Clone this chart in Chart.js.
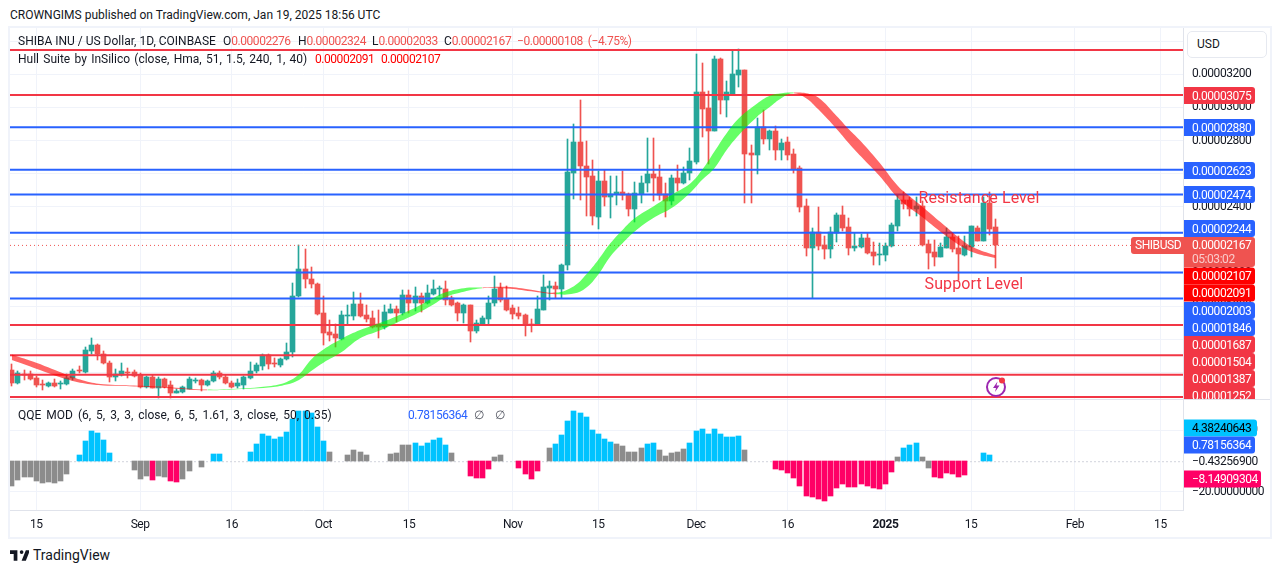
<!DOCTYPE html>
<html>
<head>
<meta charset="utf-8">
<title>SHIBUSD</title>
<script src="https://cdn.jsdelivr.net/npm/chart.js@4"></script>
<style>
  html, body { margin: 0; padding: 0; background: #fff; }
  body { width: 1281px; height: 573px; position: relative; overflow: hidden; font-family: Roboto, sans-serif; font-size: 12px; color: #131722; }
  .t { position: absolute; white-space: pre; line-height: 16px; }
  .n { letter-spacing: -0.45px; }
  #frame { position: absolute; left: 8px; top: 26px; width: 1260px; height: 509px; border: 2px solid #f0f3fa; }
  #c { position: absolute; left: 10px; top: 28px; }
  #sep { position: absolute; left: 10px; top: 399px; width: 1260px; height: 1px; background: #e0e3eb; }
  #usd { position: absolute; left: 1187px; top: 31px; width: 78px; height: 25px; border: 1px solid #e6e9f0; border-radius: 5px; background: #fff; line-height: 25px; padding-left: 0; text-indent: 9px; }
  .r { color: #ef5350; } .hr { color: #ff0000; } .b { color: #2962ff; }
</style>
</head>
<body>
<div id="frame"></div>
<canvas id="c" width="1260" height="508"></canvas>
<div id="sep"></div>
<div id="usd">USD</div>
<div class="t" style="left:10px;top:7px">CROWNGIMS published on TradingView.com, Jan 19, 2025 18:56 UTC</div>
<div class="t" style="left:18px;top:33px">SHIBA INU / US Dollar, 1D, COINBASE</div>
<div class="t" style="left:223px;top:33px">O<span class="r n">0.00002276</span></div>
<div class="t" style="left:298px;top:33px">H<span class="r n">0.00002324</span></div>
<div class="t" style="left:372px;top:33px">L<span class="r n">0.00002033</span></div>
<div class="t" style="left:444px;top:33px">C<span class="r n">0.00002167</span></div>
<div class="t r n" style="left:517px;top:33px">−0.00000108  (−4.75%)</div>
<div class="t" style="left:18px;top:51px;word-spacing:1.3px">Hull Suite by InSilico (close, Hma, 51, 1.5, 240, 1, 40)</div>
<div class="t hr n" style="left:315px;top:51px">0.00002091</div>
<div class="t hr n" style="left:381px;top:51px">0.00002107</div>
<div class="t" style="left:18px;top:407px;word-spacing:2px">QQE MOD (6, 5, 3, 3, close, 6, 5, 1.61, 3, close, 50, 0.35)</div>
<div class="t b n" style="left:408px;top:407px">0.78156364</div>
<div class="t" style="left:474px;top:407px;color:#50535e">∅</div>
<div class="t" style="left:495px;top:407px;color:#50535e">∅</div>
<svg style="position:absolute;left:10px;top:549px" width="19" height="13" viewBox="0 0 36 24"><path fill="#131722" d="M14 2H0v7h7v13h7V2Zm16 20h-8l8-20h8l-8 20ZM22 9a3.5 3.5 0 1 0 0-7 3.5 3.5 0 0 0 0 7Z"/></svg>
<div class="t" style="left:33px;top:547px;font-size:14px">TradingView</div>
<svg style="position:absolute;left:985px;top:375px" width="23" height="23" viewBox="0 0 23 23">
  <circle cx="11" cy="12" r="9" fill="#fff" stroke="#9c27b0" stroke-width="2"/>
  <path d="M12.5 6.5 8 13h3l-1 4 4.5-6.5h-3z" fill="#9c27b0"/>
  <circle cx="17" cy="5.5" r="3" fill="#f23645"/>
</svg>
<script>
// prices are in units of 0.00000001 USD, candle index 0 = 11 Aug 2024
const opens = [1415,1335,1389,1393,1365,1331,1319,1339,1329,1329,1365,1415,1403,1529,1563,1509,1459,1371,1387,1403,
  1403,1383,1315,1371,1307,1359,1323,1279,1283,1303,1353,1353,1323,1349,1395,1375,1339,1319,1327,1365,
  1407,1439,1503,1459,1443,1479,1521,1860,2027,1967,1937,1756,1642,1630,1602,1740,1740,1816,1744,1726,
  1694,1674,1762,1786,1760,1870,1822,1860,1818,1874,1906,1906,1850,1818,1756,1808,1648,1692,1720,1818,
  1910,1842,1792,1756,1744,1694,1686,1780,1911,1919,1901,2051,2605,2792,2647,2587,2336,2557,2462,2480,
  2490,2480,2388,2480,2541,2599,2581,2480,2432,2575,2545,2601,2671,3093,2996,2860,3291,3044,3075,3195,
  3225,2723,2713,2882,2810,2858,2743,2792,2719,2635,2406,2153,2250,2171,2147,2244,2352,2280,2153,2159,
  2214,2129,2113,2111,2161,2286,2442,2438,2386,2406,2177,2129,2099,2153,2219,2153,2111,2159,2274,2196,
  2424,2276];
const highs = [1449,1409,1415,1409,1379,1355,1345,1359,1349,1389,1423,1439,1553,1609,1569,1529,1469,1423,1455,1429,
  1415,1395,1379,1383,1371,1367,1349,1303,1319,1375,1369,1363,1355,1411,1407,1387,1349,1359,1379,1463,
  1455,1509,1509,1489,1489,1575,1941,2169,2147,2037,1941,1864,1714,1690,1774,1810,1888,1880,1810,1770,
  1780,1810,1814,1800,1900,1900,1918,1880,1930,1961,1920,1951,1864,1824,1816,1810,1716,1740,1860,1985,
  1941,1920,1810,1796,1750,1724,1860,1991,1953,1949,2055,2810,2900,3044,2798,2683,2613,2623,2583,2587,
  2619,2483,2551,2587,2818,2818,2653,2543,2593,2653,2641,2755,3321,3269,3099,3309,3297,3159,3346,3350,
  3225,2774,2936,2984,2864,2888,2810,2822,2749,2647,2448,2273,2400,2225,2280,2364,2406,2334,2242,2238,
  2244,2189,2182,2182,2302,2473,2487,2462,2462,2432,2201,2201,2182,2272,2242,2222,2222,2286,2286,2462,
  2492,2324];
const lows = [1319,1329,1355,1355,1315,1295,1315,1315,1299,1327,1355,1395,1399,1509,1475,1449,1343,1349,1379,1369,
  1375,1309,1309,1305,1249,1309,1249,1275,1279,1299,1335,1289,1319,1345,1363,1329,1307,1309,1299,1359,
  1399,1415,1419,1431,1435,1475,1495,1856,1909,1909,1744,1565,1589,1555,1598,1690,1716,1736,1704,1670,
  1609,1664,1760,1704,1744,1760,1770,1764,1814,1870,1860,1810,1804,1710,1700,1583,1640,1686,1690,1800,
  1824,1770,1724,1720,1620,1644,1686,1780,1840,1850,1850,2017,2446,2438,2342,2290,2266,2402,2330,2408,
  2438,2342,2306,2422,2490,2432,2442,2336,2408,2493,2535,2559,2661,2824,2659,2858,2960,2940,3075,3123,
  2424,2424,2599,2780,2743,2683,2683,2683,2605,2370,2105,1850,2141,2087,2093,2189,2256,2111,2135,2153,
  2117,2051,2051,2071,2157,2252,2386,2346,2342,2166,2027,2045,2097,2151,2125,1961,2105,2095,2192,2192,
  2232,2033];
const closes = [1335,1395,1385,1359,1323,1327,1339,1319,1335,1365,1411,1411,1533,1563,1509,1455,1371,1389,1407,1399,
  1379,1315,1371,1309,1363,1315,1275,1291,1311,1359,1357,1323,1351,1399,1371,1335,1311,1335,1371,1411,
  1443,1503,1449,1455,1483,1525,1864,2027,1965,1933,1750,1638,1626,1606,1744,1744,1816,1740,1720,1676,
  1674,1768,1786,1762,1870,1822,1860,1818,1882,1906,1910,1836,1810,1756,1806,1648,1700,1728,1822,1906,
  1836,1780,1750,1738,1690,1690,1786,1913,1919,1903,2051,2611,2792,2649,2581,2342,2557,2462,2480,2490,
  2474,2384,2483,2545,2599,2575,2473,2432,2575,2545,2605,2677,3093,2990,2858,3291,3044,3093,3201,3225,
  2719,2713,2882,2810,2858,2743,2786,2713,2629,2400,2153,2250,2165,2147,2250,2352,2274,2153,2165,2214,
  2123,2105,2117,2165,2292,2442,2418,2388,2406,2171,2123,2099,2159,2219,2147,2117,2165,2286,2196,2424,
  2268,2167];

// Hull Suite band, read at these candle indexes
const hullDays  = [0,4,9,12,15,20,25,32,36,42,45,47,49,51,54,57,60,63,66,69,71,74,77,81,85,89,92,94,96,98,100,102,105,108,111,113,115,117,119,122,124,126,128,130,132,135,137,139,142,145,147,149,152,156,158,161];
const hullUpper = [1509,1459,1387,1349,1329,1321,1313,1297,1301,1317,1343,1389,1479,1539,1604,1656,1696,1740,1790,1850,1884,1909,1913,1917,1900,1882,1921,1991,2081,2181,2262,2332,2402,2473,2539,2623,2733,2844,2934,3024,3069,3085,3089,3085,3059,2948,2868,2794,2667,2527,2462,2402,2308,2186,2145,2107];
const hullLower = [1475,1423,1359,1333,1321,1315,1307,1293,1297,1309,1327,1355,1409,1459,1523,1606,1650,1700,1750,1810,1856,1888,1909,1907,1890,1872,1876,1911,1991,2101,2181,2252,2332,2392,2483,2563,2633,2743,2834,2944,3000,3057,3085,3055,2988,2870,2784,2703,2587,2454,2392,2338,2250,2148,2117,2091];
const hullTrend = ['down','down','down','down','down','down','down','up','up','up','up','up','up','up','up','up','up','up','up','up','up','up','down','down','down','up','up','up','up','up','up','up','up','up','up','up','up','up','up','up','up','up','down','down','down','down','down','down','down','down','down','down','down','down','down','down'];

// QQE MOD histogram, one value per candle
const qqeValues = [-16.1,-12.2,-10.2,-10.2,-12.8,-14.1,-13.5,-14.1,-12.8,-8.3,null,4.1,13.3,19.8,18.5,13.9,5.4,null,null,null,
  -5.7,-11.5,-9.6,-12.2,-9.6,-10.2,-12.8,-13.5,-11.5,-6.3,null,-3.7,null,4.8,4.8,null,null,null,null,6.1,
  11.3,17.8,16.5,14.6,15.9,19.1,27,32.8,32.8,31.5,22.4,13.3,6.1,null,null,4.1,7.4,6.1,4.1,null,
  null,null,4.8,5.4,10.7,10.7,12,10,12,13.9,15.2,10.7,5.4,null,null,-9.6,-10.9,-10.9,-5,2.8,
  4.1,null,null,-4.3,-8.3,-11.5,-6.3,null,8.7,11.3,17.2,25.7,32.2,30.9,28.3,20.4,17.8,14.6,12.6,11.3,
  10,6.1,6.1,8.7,11.3,12,7.4,3.5,5.4,6.1,8,12,19.8,21.1,17.8,21.1,17.8,15.9,15.9,16.5,
  7.4,null,null,null,null,-5,-5.7,-7.6,-10.9,-16.1,-22.6,-23.3,-24.6,-25.9,-22.6,-17.4,-14.8,-16.7,-16.7,-14.8,
  -16.1,-17.4,-18,-14.8,-7,2.8,8.7,10.7,12,2.8,-4.3,-10.2,-10.9,-7.6,-8.3,-10.2,-8.9,null,null,5.4,
  4.1,null];
// g = neutral, b = strong up, p = strong down
const qqeState = 'gggggggggg.bbbbbb...gggpggppgg.g.bb....bbbbbbbbbbbbbg..gggg...ggggbbbbbbg..ppppgg..pppp.gbbbbbbbbbbgggggbbgggggbbbbbbbbbg....ppppppppppppppppppppgbbbggpppppp..bb.';

const levelsRed  = [3346,3075,1687,1504,1387,1252];
const levelsBlue = [2880,2623,2474,2244,2003,1846];
const lastPrice = 2167;
const qqeRefLine = -0.432569;

const priceTicks = [3400,3200,3000,2800,2600,2400,2200,2000,1800,1600,1400];
const qqeTicks = [20,-20];
const timeTickDays = [4,21,36,51,65,82,96,112,127,143,157,174,188];
const timeTickLabels = ['15','Sep','16','Oct','15','Nov','15','Dec','16','2025','15','Feb','15'];

const GREEN = '#26a69a', RED = '#ef5350';
const XMIN = -0.3, XMAX = 191.7;
const FONT = 'Roboto, sans-serif';
const qqeColors = { g: '#8c8c8c', b: '#00c3ff', p: '#ff0066' };
const hullColors = { up: 'rgba(0,255,0,0.6)', down: 'rgba(255,0,0,0.6)' };

const fmtPrice = v => (v / 1e8).toFixed(8);
const fmtQqe = v => v.toFixed(8).replace('-', '−');

const candleColor = i => closes[i] >= opens[i] ? GREEN : RED;

function levelDataset(v, color) {
  return { type: 'line', yAxisID: 'y', order: 3, borderColor: color, borderWidth: 2, pointRadius: 0,
    data: [{ x: XMIN, y: v }, { x: XMAX, y: v }] };
}
function hullSegmentColor(ctx) {
  return hullColors[hullTrend[ctx.p0DataIndex]];
}
// no half label padding, the chart area has to sit on exact pixels
function noPadding(s) {
  s.paddingTop = s.paddingBottom = s.paddingLeft = s.paddingRight = 0;
}

const qqePoints = [];
qqeValues.forEach((v, i) => { if (v !== null) qqePoints.push({ x: i, y: v, s: qqeState[i] }); });

const datasets = [
  // hull band
  { type: 'line', yAxisID: 'y', order: 1, borderWidth: 0, pointRadius: 0, tension: 0.4, fill: '+1',
    backgroundColor: hullColors.down, segment: { backgroundColor: hullSegmentColor },
    data: hullDays.map((d, i) => ({ x: d, y: hullUpper[i] })) },
  { type: 'line', yAxisID: 'y', order: 1, borderWidth: 0, pointRadius: 0, tension: 0.4, fill: false,
    data: hullDays.map((d, i) => ({ x: d, y: hullLower[i] })) },
  ...levelsRed.map(v => levelDataset(v, '#f23645')),
  ...levelsBlue.map(v => levelDataset(v, '#2962ff')),
  // last price dotted
  { type: 'line', yAxisID: 'y', order: 4, borderColor: RED, borderWidth: 1, borderDash: [1, 3], pointRadius: 0,
    data: [{ x: XMIN, y: lastPrice }, { x: XMAX, y: lastPrice }] },
  // wicks and bodies
  { type: 'bar', yAxisID: 'y', order: 6, grouped: false, barThickness: 1,
    backgroundColor: ctx => candleColor(ctx.dataIndex),
    data: opens.map((o, i) => ({ x: i, y: [lows[i], highs[i]] })) },
  { type: 'bar', yAxisID: 'y', order: 5, grouped: false, barThickness: 5,
    backgroundColor: ctx => candleColor(ctx.dataIndex),
    data: opens.map((o, i) => ({ x: i, y: [o, closes[i]] })) },
  // qqe
  { type: 'line', yAxisID: 'q', order: 8, borderColor: '#d1d4dc', borderWidth: 1, borderDash: [2, 2], pointRadius: 0,
    data: [{ x: XMIN, y: qqeRefLine }, { x: XMAX, y: qqeRefLine }] },
  { type: 'bar', yAxisID: 'q', order: 7, grouped: false, barThickness: 5,
    backgroundColor: ctx => qqeColors[qqePoints[ctx.dataIndex].s],
    data: qqePoints }
];

// keep bars on whole pixels like the original
const snapBars = {
  id: 'snapBars',
  beforeDraw(chart) {
    chart.ctx.letterSpacing = '-0.45px';
  },
  beforeDatasetsDraw(chart) {
    chart.getSortedVisibleDatasetMetas().forEach(meta => {
      if (meta.type !== 'bar') return;
      meta.data.forEach(el => {
        el.x = Math.round(el.x - 0.5) + 0.5;
        el.y = Math.round(el.y);
        el.base = Math.round(el.base);
        if (el.y === el.base) el.base += 1;
      });
    });
  }
};

// price tags on the right plus the two drawn labels
const priceTags = [
  { text: '0.00003075', y: 95.5, bg: '#f23645' },
  { text: '0.00002880', y: 127.5, bg: '#2962ff' },
  { text: '0.00002623', y: 170.5, bg: '#2962ff' },
  { text: '0.00002474', y: 194.5, bg: '#2962ff' },
  { text: '0.00002244', y: 228.5, bg: '#2962ff' },
  { text: '0.00002107', y: 276, bg: '#ff0000' },
  { text: '0.00002091', y: 293, bg: '#ff0000' },
  { text: '0.00002003', y: 310.5, bg: '#2962ff' },
  { text: '0.00001846', y: 327.5, bg: '#2962ff' },
  { text: '0.00001687', y: 344.5, bg: '#f23645' },
  { text: '0.00001504', y: 361.5, bg: '#f23645' },
  { text: '0.00001387', y: 378.5, bg: '#f23645' },
  { text: '0.00001252', y: 395.5, bg: '#f23645' },
  { text: '4.38240643', y: 428, bg: '#00c3ff', fg: '#000', w: 73 },
  { text: '0.78156364', y: 445, bg: '#2962ff' },
  { text: '−8.14909304', y: 479, bg: '#ff0066', w: 77 }
];
const drawnLabels = [
  { text: 'Resistance Level', day: 148.4, price: 2450 },
  { text: 'Support Level', day: 149.4, price: 1925 }
];

const overlay = {
  id: 'overlay',
  afterDraw(chart) {
    const ctx = chart.ctx, sx = chart.scales.x, sy = chart.scales.y;
    const L = 1174, T = 28;
    ctx.save();
    ctx.beginPath();
    ctx.rect(0, 0, 1260, 371);
    ctx.clip();
    ctx.textBaseline = 'middle';
    ctx.textAlign = 'left';
    ctx.letterSpacing = '0.1px';
    drawnLabels.forEach(l => {
      ctx.font = '16px ' + FONT;
      ctx.fillStyle = '#f23645';
      ctx.fillText(l.text, sx.getPixelForValue(l.day), sy.getPixelForValue(l.price));
    });
    ctx.letterSpacing = '-0.45px';
    // last price block with countdown
    ctx.fillStyle = RED;
    ctx.beginPath();
    ctx.roundRect(L - 53, 237 - T, 53, 17, [3, 0, 0, 3]);
    ctx.roundRect(L, 237 - T, 71, 30, [0, 3, 3, 0]);
    ctx.fill();
    ctx.restore();
    ctx.save();
    ctx.textBaseline = 'middle';
    priceTags.forEach(t => {
      ctx.save();
      ctx.beginPath();
      ctx.rect(L, t.y < 400 ? 0 : 372, 90, t.y < 400 ? 371 : 110);
      ctx.clip();
      ctx.fillStyle = t.bg;
      ctx.beginPath();
      ctx.roundRect(L, t.y - 8.5 - T, t.w || 71, 17, [0, 3, 3, 0]);
      ctx.fill();
      ctx.font = '12px ' + FONT;
      ctx.fillStyle = t.fg || '#fff';
      ctx.fillText(t.text, L + 8, t.y - T + 1);
      ctx.restore();
    });
    ctx.font = '12px ' + FONT;
    ctx.fillStyle = '#fff';
    ctx.fillText('SHIBUSD', L - 49, 246 - T);
    ctx.fillText('0.00002167', L + 8, 246 - T);
    ctx.fillStyle = 'rgba(255,255,255,0.7)';
    ctx.fillText('05:03:02', L + 8, 260 - T);
    ctx.restore();
  }
};

new Chart(document.getElementById('c'), {
  data: { datasets },
  plugins: [snapBars, overlay],
  options: {
    responsive: false,
    animation: false,
    devicePixelRatio: 1,
    events: [],
    layout: { padding: 0 },
    plugins: { legend: { display: false }, tooltip: { enabled: false } },
    elements: { bar: { borderWidth: 0 } },
    scales: {
      x: {
        type: 'linear', min: XMIN, max: XMAX, offset: false,
        afterBuildTicks: s => { s.ticks = timeTickDays.map(v => ({ value: v })); },
        afterFit: s => { s.height = 26; noPadding(s); },
        grid: { color: '#f0f3fa', drawTicks: false, offset: false },
        border: { color: '#e0e3eb' },
        ticks: {
          autoSkip: false, maxRotation: 0, padding: 8, color: '#131722',
          font: ctx => ({ family: FONT, size: 12, weight: timeTickLabels[timeTickDays.indexOf(ctx.tick && ctx.tick.value)] === '2025' ? 'bold' : 'normal' }),
          callback: v => timeTickLabels[timeTickDays.indexOf(v)]
        }
      },
      y: {
        type: 'linear', position: 'right', stack: 'panes', stackWeight: 371, min: 1240, max: 3479,
        afterBuildTicks: s => { s.ticks = priceTicks.map(v => ({ value: v })); },
        afterFit: s => { s.width = 87; noPadding(s); },
        grid: { color: '#f0f3fa', drawTicks: false },
        border: { color: '#e0e3eb' },
        ticks: { padding: 9, color: '#131722', font: { family: FONT, size: 12 }, callback: fmtPrice }
      },
      q: {
        type: 'linear', position: 'right', stack: 'panes', stackWeight: 111, min: -31.8, max: 40.3,
        afterBuildTicks: s => { s.ticks = qqeTicks.concat(qqeRefLine).map(v => ({ value: v })); },
        afterFit: s => { s.width = 87; noPadding(s); },
        grid: { color: ctx => ctx.tick && ctx.tick.value === qqeRefLine ? 'rgba(0,0,0,0)' : '#f0f3fa', drawTicks: false },
        border: { color: '#e0e3eb' },
        ticks: { padding: 9, color: '#131722', font: { family: FONT, size: 12 }, callback: fmtQqe }
      }
    }
  }
});
</script>
</body>
</html>
